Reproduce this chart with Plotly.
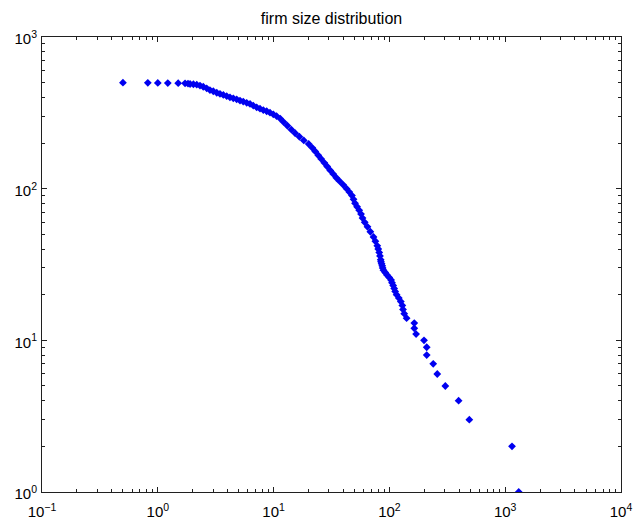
import plotly.graph_objects as go

# firm sizes (x) and their rank (y)
firm_size = [
    0.5, 0.82, 1.0, 1.22, 1.5,
    1.72, 1.823, 1.90, 2.03, 2.17, 2.314, 2.47, 2.644, 2.82, 3.015,
    3.23, 3.444, 3.68, 3.936, 4.2, 4.487, 4.8, 5.127, 5.47, 5.858,
    6.26, 6.678, 7.14, 7.631, 8.15, 8.717, 9.31, 9.94, 10.6,
    11.4, 12.2, 13.16, 14.25, 15.37, 16.71, 18.23, 20.1, 21.59, 22.92,
    24.32, 25.77, 27.41, 29.03, 30.87, 32.71, 34.79, 37.15, 39.9,
    42.7, 45.1, 47.5, 49.0, 50.5, 52.6, 54.9, 56.9, 58.6, 61.2,
    64.7, 68.5, 72.9, 75.7, 78.6, 80.1, 81.7, 82.9, 84.1, 84.6,
    85.6, 86.7, 87.5, 88.9, 92.0, 95.3, 99.6, 103.4, 105.3, 107.8,
    110.0, 112.2, 115.4, 120.6, 125.5, 129.3, 131.1, 134.3, 140.8,
    164, 164, 170, 199, 210, 210, 239, 259, 304, 396,
    490, 1145, 1309,
]
firm_rank = [
    500, 499, 498, 497, 496,
    495, 492, 490, 488, 485, 478, 470, 459, 447, 439,
    429, 422, 415, 407, 400, 394, 388, 381, 375, 368,
    362, 353, 344, 337, 330, 324, 317, 309, 301,
    290, 275, 260, 245, 232, 220, 208, 197, 186, 176,
    166, 157, 148, 140, 132, 125, 118, 112, 106,
    100, 95, 90, 85, 80, 76, 72, 68, 64, 60,
    56, 52, 48, 45, 42, 40, 38, 36, 34, 33,
    32, 31, 30, 29, 28, 27, 26, 25, 24, 23,
    22, 21, 20, 19, 18, 17, 16, 15, 14,
    13, 12, 11, 10, 9, 8, 7, 6, 5, 4,
    3, 2, 1,
]

x_exponents = [-1, 0, 1, 2, 3, 4]
y_exponents = [0, 1, 2, 3]


def pow_label(e):
    s = str(e).replace("-", "\u2212")
    return "10<sup>" + s + "</sup>"


x_tickvals = [10.0 ** e for e in x_exponents]
y_tickvals = [10.0 ** e for e in y_exponents]
x_minor = [m * 10.0 ** e for e in x_exponents[:-1] for m in range(2, 10)]
y_minor = [m * 10.0 ** e for e in y_exponents[:-1] for m in range(2, 10)]

FONT = "Arial, Liberation Sans, Helvetica, sans-serif"

fig = go.Figure(
    go.Scatter(
        x=firm_size, y=firm_rank, mode="markers",
        marker=dict(symbol="diamond", size=6, color="#0000f0",
                    line=dict(width=0)),
        hoverinfo="x+y",
    )
)

axis_common = dict(
    type="log", showgrid=False, zeroline=False, automargin=False,
    showline=True, linecolor="#202020", linewidth=1, mirror="ticks",
    ticks="inside", ticklen=5, tickcolor="#202020", tickwidth=1,
    tickfont=dict(family=FONT, size=15, color="black"),
    tickmode="array",
)

fig.update_layout(
    width=637, height=525,
    margin=dict(l=42, r=16, t=37, b=33),
    paper_bgcolor="white", plot_bgcolor="white",
    showlegend=False,
    title=dict(text="firm size distribution", x=0.5, xref="paper",
               xanchor="center", automargin=False,
               y=1 - 18 / 525, yref="container", yanchor="middle",
               font=dict(family=FONT, size=16, color="black")),
    xaxis=dict(axis_common, range=[-1, 4], tickvals=x_tickvals,
               ticktext=[pow_label(e) for e in x_exponents],
               ticklabelstandoff=6,
               minor=dict(tickvals=x_minor, ticks="inside", ticklen=3,
                          tickcolor="#202020", showgrid=False)),
    yaxis=dict(axis_common, range=[0, 3], tickvals=y_tickvals,
               ticktext=[pow_label(e) for e in y_exponents],
               ticklabelshift=2, ticklabelstandoff=1,
               minor=dict(tickvals=y_minor, ticks="inside", ticklen=3,
                          tickcolor="#202020", showgrid=False)),
)

fig.write_html("out.html")
